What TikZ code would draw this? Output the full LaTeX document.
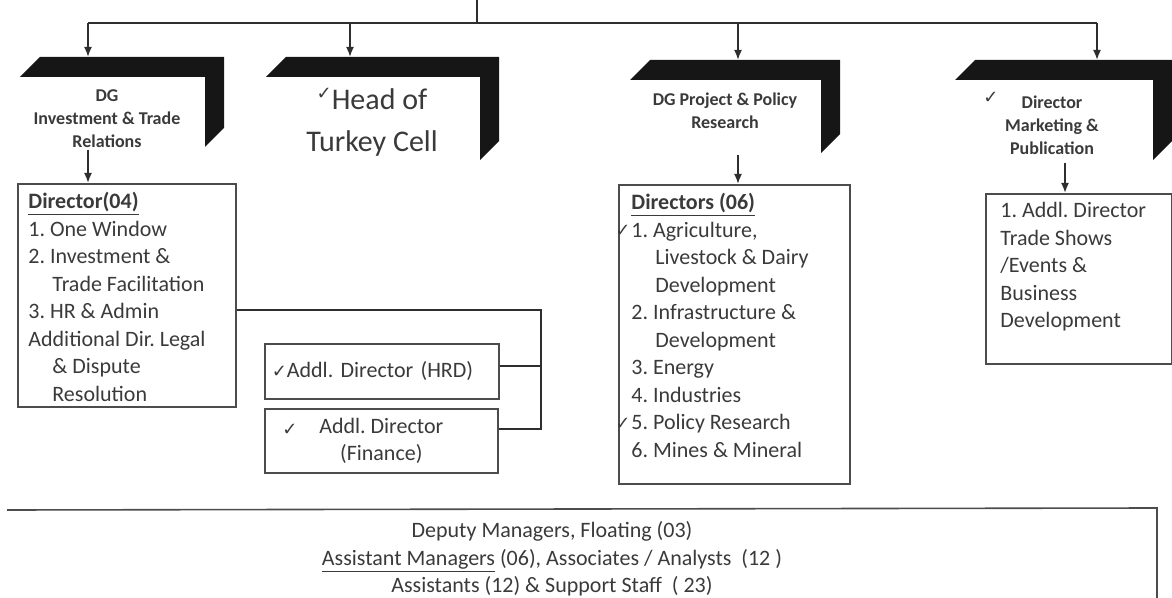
\documentclass[tikz,border=0pt]{standalone}
\usepackage{fontspec}
\setmainfont{Carlito}
\newfontfamily\symfont{DejaVu Sans}
\usetikzlibrary{positioning,arrows.meta,calc}
\definecolor{BannerInk}{HTML}{161616}
\definecolor{BodyInk}{HTML}{3A3A3A}
\definecolor{RuleInk}{HTML}{4C4C4C}
\definecolor{WireInk}{HTML}{2E2E2E}
\newcommand{\tick}{{\symfont\fontsize{9}{9}\selectfont ✓}}
\newcommand{\ind}{\hspace*{12pt}}
\newcommand{\banner}[5]{\fill[BannerInk] (#2,#4) -- (#3,#4) -- (#3,{#5-19}) -- ({#3-19},#5) -- ({#3-19},{#4+20}) -- ({#2-20},{#4+20}) -- cycle; \coordinate (#1) at ({(#2+#3)/2},#4);}
\tikzset{
  panel/.style={draw=RuleInk,line width=0.8pt,anchor=north west,inner sep=0pt},
  headtext/.style={font=\fontsize{9}{11.5}\selectfont\bfseries,text=BodyInk,align=center},
  bodytext/.style={font=\fontsize{11}{13.75}\selectfont,text=BodyInk},
  listtext/.style={bodytext,align=left,inner sep=0pt,anchor=north west},
  wire/.style={draw=WireInk,line width=0.9pt},
  drop/.style={wire,-{Latex[length=5pt,width=4pt]}}
}

\begin{document}
\begin{tikzpicture}[x=0.5pt,y=-0.5pt]
  \useasboundingbox (0,0) rectangle (1172,598);
  % top spine
  \coordinate (apex) at (477,0);
  \coordinate (spine) at (477,23);
  \coordinate (c1) at (88,23);
  \coordinate (c2) at (350,23);
  \coordinate (c3) at (738,23);
  \coordinate (c4) at (1097,23);
  \draw[wire] (apex) -- (spine);
  \draw[wire] (c1) -- (c4);

  % black banners
  \banner{b1}{40}{224}{57}{147}
  \banner{b2}{286}{499}{57}{160}
  \banner{b3}{650}{840}{60}{153}
  \banner{b4}{975}{1172}{60}{160}
  \foreach \c/\b in {c1/b1,c2/b2,c3/b3,c4/b4}
    \draw[drop] (\c) -- (\c |- \b);

  \node[headtext] (dgit) at (107,119) {DG\\Investment \& Trade\\Relations};
  \node[font=\fontsize{15}{21}\selectfont,text=BodyInk,align=center] (turkey) at (372,122) {\raisebox{5pt}{\tick}Head of\\Turkey Cell};
  \node[headtext] (dgpr) at (725,111) {DG Project \& Policy\\Research};
  \node[headtext] (mkt) at (1052,125) {Director\\Marketing \&\\Publication};
  \node[text=BodyInk] (mkttick) at (991,98) {\tick};

  % director boxes
  \node[panel,minimum width=109pt,minimum height=111.5pt] (dir04) at (17,183) {};
  \node[listtext] (dir04list) at ([xshift=5.5pt,yshift=-4.5pt]dir04.north west)
    {\underline{\textbf{Director(04)}}\\
     1.\ One Window\\
     2.\ Investment \&\\
     \ind Trade Facilitation\\
     3.\ HR \& Admin\\
     Additional Dir.\ Legal\\
     \ind\& Dispute\\
     \ind Resolution};

  \node[panel,minimum width=115.5pt,minimum height=149.5pt] (dirs06) at (618,184) {};
  \node[listtext] (dirs06list) at ([xshift=6.5pt,yshift=-4.5pt]dirs06.north west)
    {\underline{\textbf{Directors (06)}}\\
     1.\ Agriculture,\\
     \ind Livestock \& Dairy\\
     \ind Development\\
     2.\ Infrastructure \&\\
     \ind Development\\
     3.\ Energy\\
     4.\ Industries\\
     5.\ Policy Research\\
     6.\ Mines \& Mineral};
  \node[text=BodyInk,inner sep=0pt] (tick1) at (623,231) {\tick};
  \node[text=BodyInk,inner sep=0pt] (tick5) at (623,424) {\tick};

  \node[panel,minimum width=93pt,minimum height=85pt] (mktbox) at (985,193) {};
  \node[listtext] (mktlist) at ([xshift=7.5pt,yshift=-4.5pt]mktbox.north west)
    {1.\ Addl.\ Director\\
     Trade Shows\\
     /Events \&\\
     Business\\
     Development};

  % additional directors
  \node[panel,bodytext,minimum width=117pt,minimum height=27.5pt,text width=110pt,inner xsep=3.5pt,align=left] (hrd) at (264,343) {\tick Addl.\ Director (HRD)};
  \node[panel,bodytext,minimum width=116.5pt,minimum height=32pt,align=center] (fin) at (264,408) {Addl.\ Director\\(Finance)};
  \node[text=BodyInk] (fintick) at (290,430) {\tick};

  \coordinate (hrbus) at (541,310);
  \draw[wire] (hrbus -| dir04.east) -- (hrbus) |- ([yshift=6pt]fin.east);
  \draw[wire] ([yshift=2.5pt]hrd.east) -- ([yshift=2.5pt]hrd.east -| hrbus);

  % arrows under the banners
  \coordinate (a1) at (88,150);
  \coordinate (a3) at (738,155);
  \coordinate (a4) at (1065,163);
  \draw[drop] (a1) -- (a1 |- dir04.north);
  \draw[drop] (a3) -- (a3 |- dirs06.north);
  \draw[drop] (a4) -- (a4 |- mktbox.north);

  % staff box
  \coordinate (stafftl) at (7,510);
  \coordinate (stafftr) at (1157,508);
  \coordinate (staffbr) at (1157,598);
  \draw[RuleInk,line width=0.8pt] (stafftl) -- (stafftr) -- (staffbr);
  \node[bodytext,align=center] (staff) at (552,559)
    {Deputy Managers, Floating (03)\\
     \underline{Assistant Managers} (06), Associates / Analysts~~(12~)\\
     Assistants (12) \& Support Staff~~(~23)};
\end{tikzpicture}
\end{document}
